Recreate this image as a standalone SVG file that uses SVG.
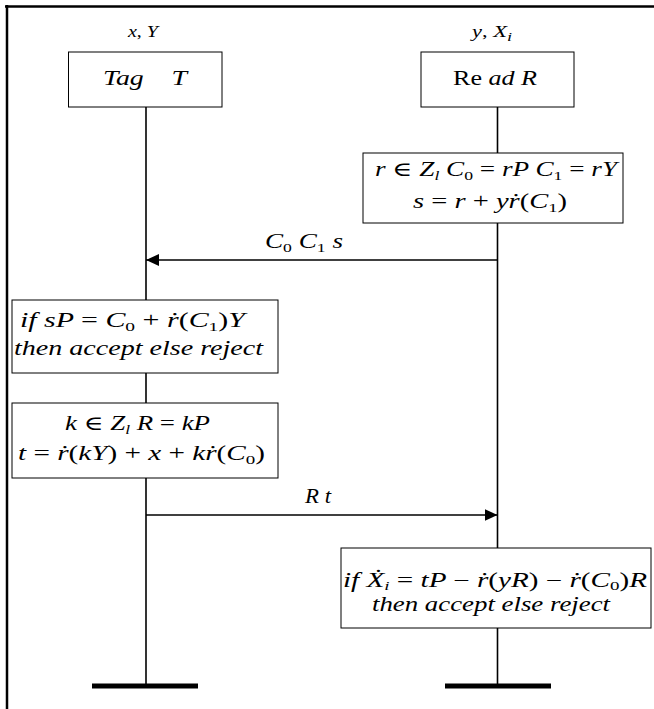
<svg xmlns="http://www.w3.org/2000/svg" width="654" height="709" viewBox="0 0 654 709" font-family="'Liberation Serif', 'Times New Roman', 'DejaVu Serif', serif">
<defs>
<style>
text{font-family:"Liberation Serif","Times New Roman","DejaVu Serif",serif;font-size:20px;fill:#000}
.i{font-style:italic}
.n{font-style:normal}
.sm{font-size:16px}
.sb{font-size:13px}
.box{fill:#fff;stroke:#000;stroke-width:1}
.life{stroke:#000;stroke-width:1.6;fill:none}
.msg{stroke:#000;stroke-width:1.6;fill:none}
.bar{stroke:#000;stroke-width:5}
</style>
<marker id="ah" viewBox="0 0 13 12" refX="13" refY="6" markerWidth="13" markerHeight="12" markerUnits="userSpaceOnUse" orient="auto">
<path d="M0,0 L13,6 L0,12 Z" fill="#000"/>
</marker>
</defs>
<g id="frame">
<line x1="5" y1="6.5" x2="654" y2="6.5" stroke="#000" stroke-width="2.5"/>
<line x1="7" y1="5" x2="7" y2="709" stroke="#000" stroke-width="2.5"/>
</g>
<g id="connectors">
<line class="life" x1="146" y1="107" x2="146" y2="686"/>
<line class="life" x1="497.5" y1="107" x2="497.5" y2="686"/>
<line class="bar" x1="92" y1="686" x2="198" y2="686"/>
<line class="bar" x1="445" y1="686" x2="551" y2="686"/>
<line class="msg" x1="497.5" y1="260" x2="146" y2="260" marker-end="url(#ah)"/>
<line class="msg" x1="146" y1="515" x2="497.5" y2="515" marker-end="url(#ah)"/>
<text x="265" y="248" class="i" textLength="78" lengthAdjust="spacingAndGlyphs">C<tspan class="n sb" dy="4">0</tspan><tspan dy="-4"> C</tspan><tspan class="n sb" dy="4">1</tspan><tspan dy="-4"> s</tspan></text>
<text x="305" y="503" class="i" textLength="26" lengthAdjust="spacingAndGlyphs">R t</text>
</g>
<g id="tagLabel"><text x="128" y="37" class="i sm" textLength="30" lengthAdjust="spacingAndGlyphs">x<tspan class="n">, </tspan>Y</text></g>
<g id="readerLabel"><text x="472" y="37" class="i sm" textLength="40" lengthAdjust="spacingAndGlyphs">y<tspan class="n">, </tspan>X<tspan class="sb" dy="4">i</tspan></text></g>
<g id="tag">
<rect class="box" x="68.5" y="52" width="153.5" height="55"/>
<text x="103" y="85" class="i" xml:space="preserve" textLength="84" lengthAdjust="spacingAndGlyphs">Tag    T</text>
</g>
<g id="reader">
<rect class="box" x="421" y="52" width="153" height="55"/>
<text x="453" y="85" textLength="84" lengthAdjust="spacingAndGlyphs">Re<tspan class="i"> ad R</tspan></text>
</g>
<g id="readerCompute">
<rect class="box" x="363" y="153" width="260" height="70"/>
<text x="375" y="176" class="i" textLength="242" lengthAdjust="spacingAndGlyphs">r <tspan class="n">∈</tspan> Z<tspan class="sb" dy="4">l</tspan><tspan dy="-4"> C</tspan><tspan class="n sb" dy="4">0</tspan><tspan dy="-4" class="n"> = </tspan>rP C<tspan class="n sb" dy="4">1</tspan><tspan dy="-4" class="n"> = </tspan>rY</text>
<text x="413" y="208" class="i" textLength="154" lengthAdjust="spacingAndGlyphs">s <tspan class="n">=</tspan> r <tspan class="n">+</tspan> yṙ<tspan class="n">(</tspan>C<tspan class="n sb" dy="4">1</tspan><tspan class="n" dy="-4">)</tspan></text>
</g>
<g id="tagVerify">
<rect class="box" x="12" y="300" width="266" height="73"/>
<text x="20" y="327" class="i" textLength="225" lengthAdjust="spacingAndGlyphs">if  sP <tspan class="n">=</tspan> C<tspan class="n sb" dy="4">0</tspan><tspan class="n" dy="-4"> + </tspan>ṙ<tspan class="n">(</tspan>C<tspan class="n sb" dy="4">1</tspan><tspan class="n" dy="-4">)</tspan>Y</text>
<text x="14" y="355" class="i" textLength="249" lengthAdjust="spacingAndGlyphs">then accept else reject</text>
</g>
<g id="tagCompute">
<rect class="box" x="12" y="403" width="266" height="75"/>
<text x="65" y="430" class="i" textLength="145" lengthAdjust="spacingAndGlyphs">k <tspan class="n">∈</tspan> Z<tspan class="sb" dy="4">l</tspan><tspan dy="-4"> R </tspan><tspan class="n">=</tspan> kP</text>
<text x="18" y="460" class="i" textLength="247" lengthAdjust="spacingAndGlyphs">t <tspan class="n">=</tspan> ṙ<tspan class="n">(</tspan>kY<tspan class="n">) + </tspan>x <tspan class="n">+</tspan> kṙ<tspan class="n">(</tspan>C<tspan class="n sb" dy="4">0</tspan><tspan class="n" dy="-4">)</tspan></text>
</g>
<g id="readerVerify">
<rect class="box" x="341" y="548" width="310" height="80"/>
<text x="343" y="587" class="i" textLength="304" lengthAdjust="spacingAndGlyphs">if  Ẋ<tspan class="sb" dy="3">i</tspan><tspan class="n" dy="-3"> = </tspan>tP <tspan class="n">−</tspan> ṙ<tspan class="n">(</tspan>yR<tspan class="n">) − </tspan>ṙ<tspan class="n">(</tspan>C<tspan class="n sb" dy="3">0</tspan><tspan class="n" dy="-3">)</tspan>R</text>
<text x="372" y="611" class="i" textLength="238" lengthAdjust="spacingAndGlyphs">then accept else reject</text>
</g>
</svg>
